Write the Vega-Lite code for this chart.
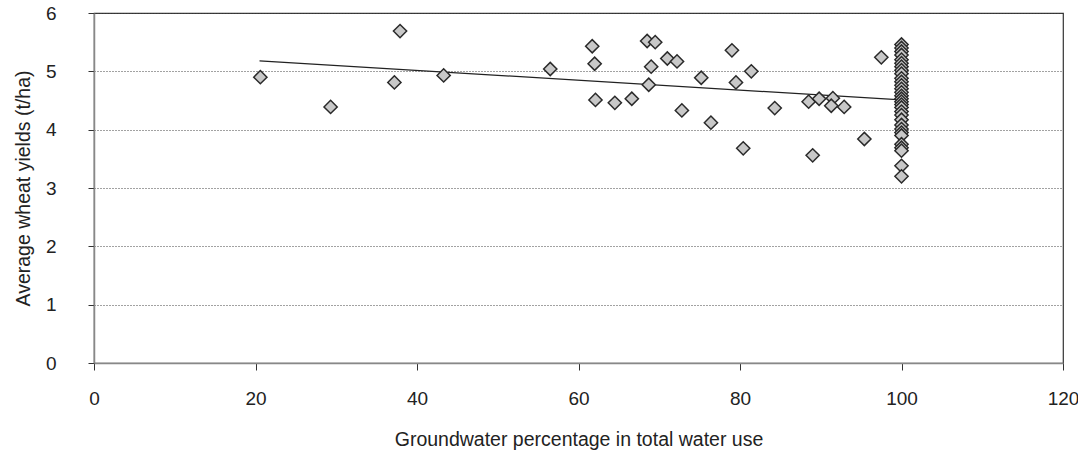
{
  "$schema": "https://vega.github.io/schema/vega-lite/v6.json",
  "width": 969,
  "height": 350,
  "autosize": {"type": "none"},
  "padding": {"left": 94, "top": 13, "right": 15, "bottom": 89},
  "background": "white",
  "config": {
    "view": {"stroke": "#333333", "strokeWidth": 1.2},
    "font": "Liberation Sans",
    "axis": {
      "labelFont": "Liberation Sans",
      "titleFont": "Liberation Sans",
      "labelFontSize": 19,
      "titleFontSize": 19.5,
      "titleFontWeight": "normal",
      "labelColor": "#222222",
      "titleColor": "#222222",
      "domainColor": "#888888",
      "domainWidth": 1.5,
      "tickColor": "#333333",
      "tickSize": 6
    }
  },
  "datasets": {
    "points": [
      {"gw": 20.6, "yield": 4.90},
      {"gw": 29.3, "yield": 4.39},
      {"gw": 37.2, "yield": 4.81},
      {"gw": 37.9, "yield": 5.69},
      {"gw": 43.3, "yield": 4.93},
      {"gw": 56.5, "yield": 5.04},
      {"gw": 61.7, "yield": 5.43},
      {"gw": 62.0, "yield": 5.13},
      {"gw": 62.1, "yield": 4.51},
      {"gw": 64.5, "yield": 4.46},
      {"gw": 66.6, "yield": 4.53},
      {"gw": 68.5, "yield": 5.52},
      {"gw": 69.5, "yield": 5.50},
      {"gw": 69.0, "yield": 5.08},
      {"gw": 68.7, "yield": 4.77},
      {"gw": 71.0, "yield": 5.22},
      {"gw": 72.2, "yield": 5.17},
      {"gw": 72.8, "yield": 4.33},
      {"gw": 75.2, "yield": 4.89},
      {"gw": 76.4, "yield": 4.12},
      {"gw": 79.0, "yield": 5.36},
      {"gw": 79.5, "yield": 4.81},
      {"gw": 80.4, "yield": 3.68},
      {"gw": 81.4, "yield": 5.00},
      {"gw": 84.3, "yield": 4.37},
      {"gw": 88.5, "yield": 4.48},
      {"gw": 89.0, "yield": 3.56},
      {"gw": 89.8, "yield": 4.53},
      {"gw": 91.5, "yield": 4.54},
      {"gw": 91.3, "yield": 4.41},
      {"gw": 92.9, "yield": 4.39},
      {"gw": 95.4, "yield": 3.84},
      {"gw": 97.5, "yield": 5.24},
      {"gw": 100, "yield": 5.46},
      {"gw": 100, "yield": 5.40},
      {"gw": 100, "yield": 5.34},
      {"gw": 100, "yield": 5.28},
      {"gw": 100, "yield": 5.20},
      {"gw": 100, "yield": 5.14},
      {"gw": 100, "yield": 5.08},
      {"gw": 100, "yield": 5.02},
      {"gw": 100, "yield": 4.96},
      {"gw": 100, "yield": 4.88},
      {"gw": 100, "yield": 4.82},
      {"gw": 100, "yield": 4.76},
      {"gw": 100, "yield": 4.70},
      {"gw": 100, "yield": 4.64},
      {"gw": 100, "yield": 4.58},
      {"gw": 100, "yield": 4.53},
      {"gw": 100, "yield": 4.48},
      {"gw": 100, "yield": 4.43},
      {"gw": 100, "yield": 4.38},
      {"gw": 100, "yield": 4.31},
      {"gw": 100, "yield": 4.25},
      {"gw": 100, "yield": 4.17},
      {"gw": 100, "yield": 4.08},
      {"gw": 100, "yield": 4.01},
      {"gw": 100, "yield": 3.95},
      {"gw": 100, "yield": 3.90},
      {"gw": 100, "yield": 3.75},
      {"gw": 100, "yield": 3.69},
      {"gw": 100, "yield": 3.64},
      {"gw": 100, "yield": 3.38},
      {"gw": 100, "yield": 3.20}
    ],
    "trend": [
      {"gw": 20.5, "yield": 5.18},
      {"gw": 100, "yield": 4.51}
    ]
  },
  "layer": [
    {
      "data": {"name": "trend"},
      "mark": {"type": "line", "color": "#222222", "strokeWidth": 1.2},
      "encoding": {
        "x": {
          "field": "gw", "type": "quantitative",
          "scale": {"domain": [0, 120], "nice": false},
          "axis": {
            "title": "Groundwater percentage in total water use",
            "values": [0, 20, 40, 60, 80, 100, 120],
            "format": "d",
            "grid": false,
            "tickSize": 7,
            "labelPadding": 19,
            "labelFlush": false,
            "labelDx": -10,
            "titlePadding": 22
          }
        },
        "y": {
          "field": "yield", "type": "quantitative",
          "scale": {"domain": [0, 6], "nice": false},
          "axis": {
            "title": "Average wheat yields (t/ha)",
            "values": [0, 1, 2, 3, 4, 5, 6],
            "format": "d",
            "grid": true,
            "gridColor": "#444444",
            "gridDash": [1, 2],
            "gridWidth": 1,
            "labelPadding": 32,
            "titlePadding": 12
          }
        }
      }
    },
    {
      "data": {"name": "points"},
      "mark": {
        "type": "point",
        "shape": "diamond",
        "filled": true,
        "fill": "#c8c8c8",
        "stroke": "#2a2a2a",
        "strokeWidth": 1.5,
        "size": 175,
        "opacity": 1
      },
      "encoding": {
        "x": {"field": "gw", "type": "quantitative"},
        "y": {"field": "yield", "type": "quantitative"}
      }
    }
  ]
}
